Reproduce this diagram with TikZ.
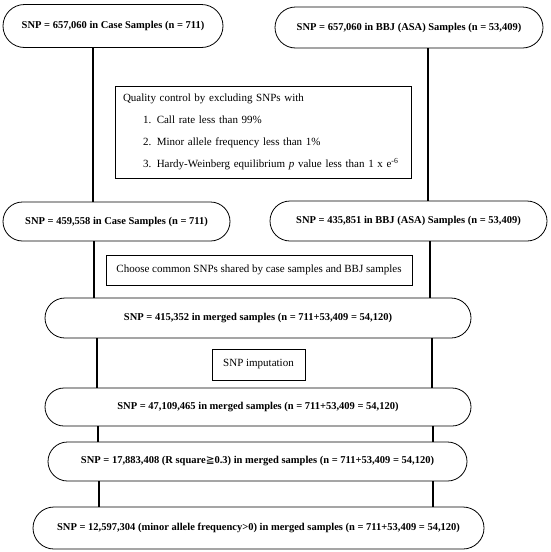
\documentclass[tikz,border=0pt]{standalone}
\usepackage{fontspec}
\setmainfont{Liberation Serif}
\newfontfamily\symfont{DejaVu Sans}
\begin{document}
\begin{tikzpicture}[x=1pt,y=-1pt,
  pill/.style={draw, line width=0.8pt, font=\fontsize{10.5}{12}\selectfont\bfseries, inner sep=0pt},
  plain/.style={draw, line width=0.8pt, font=\fontsize{11}{13}\selectfont, inner sep=0pt},
  link/.style={line width=1.7pt}]
\useasboundingbox (0,0) rectangle (550,552);
% nodes
\node[pill, minimum width=220, minimum height=43, rounded corners=21.5] (b1) at (113,26) {SNP = 657,060 in Case Samples (n = 711)};
\node[pill, minimum width=268, minimum height=41, rounded corners=20.5] (b2) at (409,27.5) {SNP = 657,060 in BBJ (ASA) Samples (n = 53,409)};
\node[plain, minimum width=296, minimum height=92, text width=280, align=left] (qc) at (263,132)
  {Quality control by excluding SNPs with\\[9pt]
   \hspace*{20pt}1. Call rate less than 99\%\\[9pt]
   \hspace*{20pt}2. Minor allele frequency less than 1\%\\[9pt]
   \hspace*{20pt}3. Hardy-Weinberg equilibrium \textit{p} value less than 1 x e\textsuperscript{-6}};
\node[pill, minimum width=227, minimum height=39, rounded corners=19.5] (b3) at (116.5,221.5) {SNP = 459,558 in Case Samples (n = 711)};
\node[pill, minimum width=277, minimum height=40, rounded corners=20] (b4) at (408.5,221) {SNP = 435,851 in BBJ (ASA) Samples (n = 53,409)};
\node[plain, minimum width=306, minimum height=30] (ch) at (259,270) {Choose common SNPs shared by case samples and BBJ samples};
\node[pill, minimum width=426, minimum height=40, rounded corners=20] (b5) at (258,318) {SNP = 415,352 in merged samples (n = 711+53,409 = 54,120)};
\node[plain, minimum width=93, minimum height=31] (imp) at (258.5,364.5) {SNP imputation};
\node[pill, minimum width=426, minimum height=38, rounded corners=19] (b6) at (258,407) {SNP = 47,109,465 in merged samples (n = 711+53,409 = 54,120)};
\node[pill, minimum width=419, minimum height=39, rounded corners=19.5] (b7) at (257.5,461.5) {SNP = 17,883,408 (R square{\symfont\mdseries ≧}0.3) in merged samples (n = 711+53,409 = 54,120)};
\node[pill, minimum width=451, minimum height=42, rounded corners=21] (b8) at (258.5,528) {SNP = 12,597,304 (minor allele frequency>0) in merged samples (n = 711+53,409 = 54,120)};
% helper x positions
\coordinate (l1) at (93,0);  \coordinate (r1) at (428,0);
\coordinate (l2) at (94,0);  \coordinate (r2) at (430,0);
\coordinate (l3) at (97,0);  \coordinate (r3) at (432,0);
\coordinate (l4) at (98,0);  \coordinate (r4) at (433,0);
\coordinate (l5) at (99,0);  \coordinate (r5) at (433,0);
% connectors
\draw[link] (b1.south -| l1) -- (b3.north -| l1);
\draw[link] (b2.south -| r1) -- (b4.north -| r1);
\draw[link] (b3.south -| l2) -- (b5.north -| l2);
\draw[link] (b4.south -| r2) -- (b5.north -| r2);
\draw[link] (b5.south -| l3) -- (b6.north -| l3);
\draw[link] (b5.south -| r3) -- (b6.north -| r3);
\draw[link] (b6.south -| l4) -- (b7.north -| l4);
\draw[link] (b6.south -| r4) -- (b7.north -| r4);
\draw[link] (b7.south -| l5) -- (b8.north -| l5);
\draw[link] (b7.south -| r5) -- (b8.north -| r5);
\end{tikzpicture}
\end{document}
